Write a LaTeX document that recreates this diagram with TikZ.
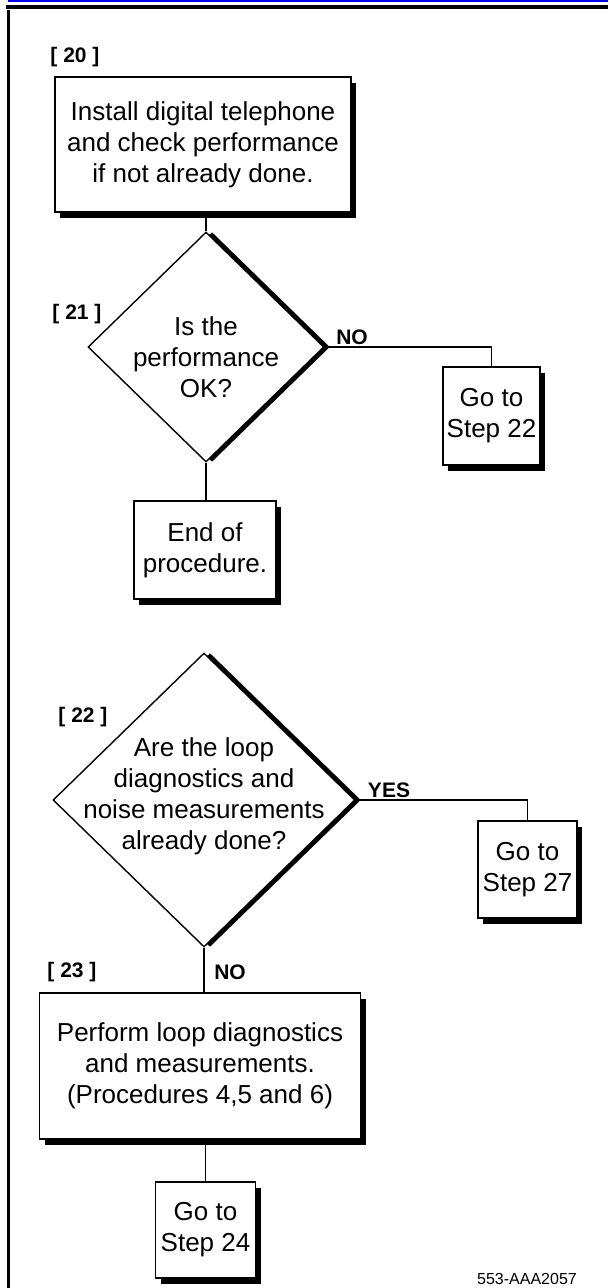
\documentclass[tikz,border=0pt]{standalone}
\usepackage{fontspec}
\setmainfont{Liberation Sans}
\usetikzlibrary{shapes.geometric,shadows}
\definecolor{topblue}{RGB}{0,0,235}
\begin{document}
\begin{tikzpicture}[x=1pt,y=-1pt,
  box/.style={draw, line width=1.6pt, fill=white, rectangle, inner sep=0pt, align=center,
    font=\fontsize{26}{31}\selectfont,
    drop shadow={shadow xshift=5pt, shadow yshift=-6pt, opacity=1, fill=black}},
  dia/.style={draw, line width=1.4pt, fill=white, diamond, inner sep=0pt,
    drop shadow={shadow xshift=6pt, shadow yshift=0pt, opacity=1, fill=black}},
  qtext/.style={align=center, font=\fontsize{26}{31}\selectfont, inner sep=0pt},
  steplabel/.style={font=\bfseries\fontsize{21}{24}\selectfont, inner sep=0pt},
  conn/.style={line width=1.4pt}]
\useasboundingbox (0,0) rectangle (608,1288);
% page frame
\draw[topblue, line width=2.5pt] (8,1.2) -- (608,1.2);
\draw[line width=3.4pt] (6,7) -- (608,7);
\draw[line width=3pt] (8.2,10) -- (8.2,1288);

% step 20
\node[steplabel] (l20) at (75,57) {[ 20 ]};
\node[box, minimum width=296pt, minimum height=135pt] (b20) at (203,144.5)
  {Install digital telephone\\and check performance\\if not already done.};

% step 21
\node[dia, minimum width=236pt, minimum height=230pt] (d21) at (206,347) {};
\node[qtext] (t21) at (206,357) {Is the\\performance\\OK?};
\node[steplabel] (l21) at (77,314) {[ 21 ]};
\node[box, minimum width=97pt, minimum height=98pt] (g22) at (491.5,416) {Go to\\Step 22};
\node[box, minimum width=142pt, minimum height=98pt] (e) at (205,550) {End of\\procedure.};
\node[steplabel] (no21) at (352,337) {NO};

% step 22
\node[dia, minimum width=302pt, minimum height=294pt] (d22) at (204,800) {};
\node[qtext] (t22) at (204,796) {Are the loop\\diagnostics and\\noise measurements\\already done?};
\node[steplabel] (l22) at (83,717) {[ 22 ]};
\node[box, minimum width=99pt, minimum height=97pt] (g27) at (527.5,869.5) {Go to\\Step 27};
\node[steplabel] (yes22) at (389,790) {YES};

% step 23
\node[steplabel] (l23) at (72,972) {[ 23 ]};
\node[steplabel] (no22) at (230,972) {NO};
\node[box, minimum width=321pt, minimum height=146pt] (b23) at (200,1066)
  {Perform loop diagnostics\\and measurements.\\(Procedures 4,5 and 6)};
\node[box, minimum width=100pt, minimum height=96pt] (g24) at (205.5,1230) {Go to\\Step 24};

\node[font=\fontsize{16}{18}\selectfont, inner sep=0pt] (code) at (527,1279) {553-AAA2057};

% connectors
\draw[conn] (d21.north |- b20.south) -- (d21.north);
\draw[conn] (d21.east) -| (g22.north);
\draw[conn] (d21.south) -- (d21.south |- e.north);
\draw[conn] (d22.east) -| (g27.north);
\draw[conn] (d22.south) -- (d22.south |- b23.north);
\draw[conn] (g24.north |- b23.south) -- (g24.north);
\end{tikzpicture}
\end{document}
